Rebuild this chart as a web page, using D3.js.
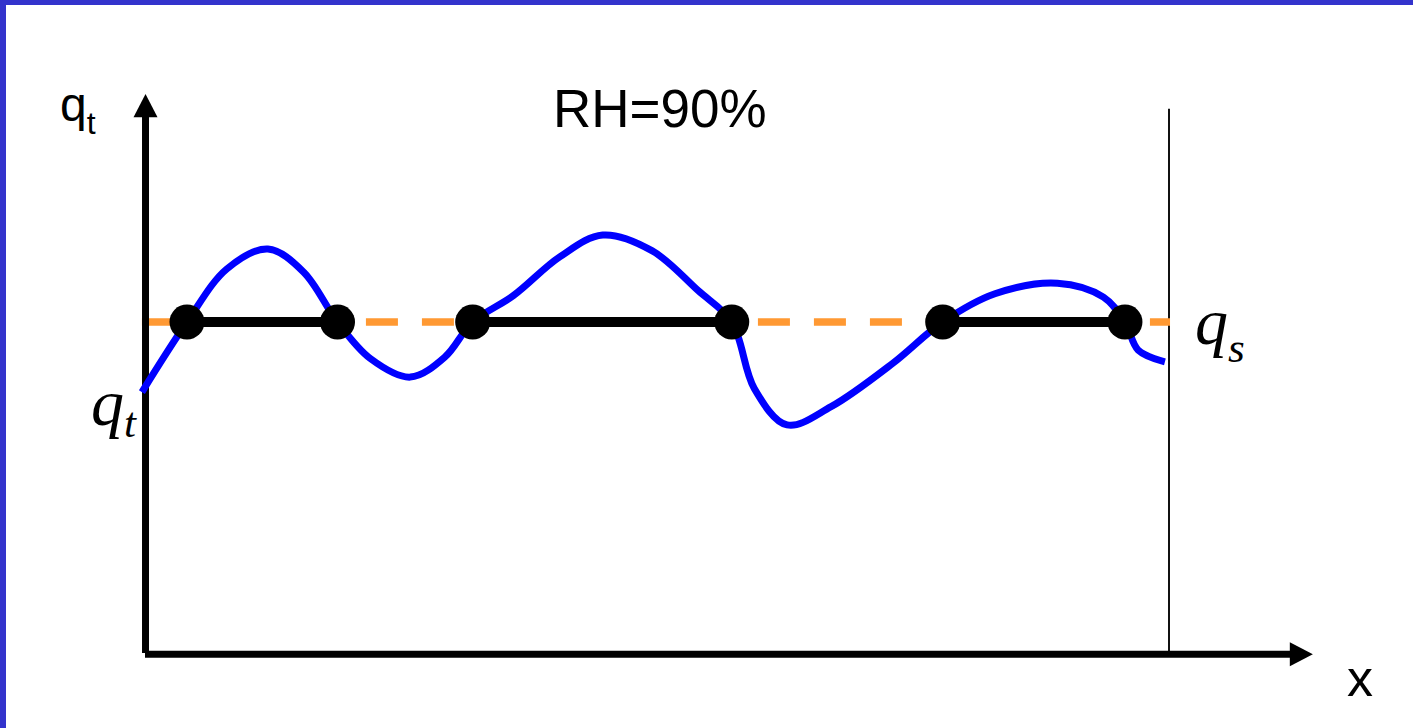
<!DOCTYPE html>
<html>
<head>
<meta charset="utf-8">
<script src="https://cdn.jsdelivr.net/npm/d3@7"></script>
<style>
  html, body { margin: 0; padding: 0; background: #fff; }
  svg { display: block; }
</style>
</head>
<body>
<svg id="chart" width="1413" height="728"></svg>
<script>
// ---- data (x in arbitrary distance units, y relative to saturation qs = 1) ----
const curveX = [-0.03, 0.41, 0.80, 1.20, 1.55, 1.88, 2.20, 2.59, 2.93, 3.20, 3.60, 4.05, 4.47, 4.95, 5.40, 5.73, 5.95, 6.27, 6.70, 7.30, 7.79, 8.30, 8.91, 9.36, 9.57, 9.70, 9.96];
const curveY = [0.789, 1.0, 1.160, 1.220, 1.150, 1.0, 0.890, 0.834, 0.895, 1.0, 1.080, 1.196, 1.262, 1.215, 1.095, 1.0, 0.800, 0.690, 0.745, 0.875, 1.0, 1.085, 1.117, 1.075, 1.0, 0.915, 0.880];
const qs = 1.0;
const crossX = [0.41, 1.88, 3.20, 5.73, 7.79, 9.57];
const saturatedStart = [0, 2, 4];   // indices into crossX
const saturatedEnd = [1, 3, 5];
const titleText = "RH=90%";

const svg = d3.select("#chart");

// frame border (blue, top and left)
svg.append("rect").attr("x", 0).attr("y", 0).attr("width", 1413).attr("height", 5).attr("fill", "#3333cc");
svg.append("rect").attr("x", 0).attr("y", 0).attr("width", 6).attr("height", 728).attr("fill", "#3333cc");

const x = d3.scaleLinear().domain([0, 10]).range([145, 1169]);
const y = d3.scaleLinear().domain([0, 1]).range([654, 322]);

// thin vertical boundary line
svg.append("line")
  .attr("x1", x(10)).attr("x2", x(10))
  .attr("y1", y(1.642)).attr("y2", y(0))
  .attr("stroke", "#111").attr("stroke-width", 2);

// saturation level (dashed orange)
svg.append("line")
  .attr("x1", x(-0.03)).attr("x2", x(10.01))
  .attr("y1", y(qs)).attr("y2", y(qs))
  .attr("stroke", "#ff9933").attr("stroke-width", 7.5)
  .attr("stroke-dasharray", "32,24");

// axes
const axisG = svg.append("g");
axisG.append("line")
  .attr("x1", x(0.005)).attr("x2", x(0.005))
  .attr("y1", y(0.003)).attr("y2", y(1.62))
  .attr("stroke", "#000").attr("stroke-width", 7);
axisG.append("path")
  .attr("d", `M${x(0.005) - 12},${y(1.617)} L${x(0.005)},${y(1.687)} L${x(0.005) + 12},${y(1.617)} Z`)
  .attr("fill", "#000");
axisG.append("line")
  .attr("x1", x(0)).attr("x2", x(11.2))
  .attr("y1", y(-0.001)).attr("y2", y(-0.001))
  .attr("stroke", "#000").attr("stroke-width", 7);
axisG.append("path")
  .attr("d", `M${x(11.18)},${y(-0.001) - 12} L${x(11.405)},${y(-0.001)} L${x(11.18)},${y(-0.001) + 12} Z`)
  .attr("fill", "#000");

// blue curve
const pts = curveX.map((v, i) => [v, curveY[i]]);
const line = d3.line()
  .x(d => x(d[0])).y(d => y(d[1]))
  .curve(d3.curveCatmullRom.alpha(0.5));
svg.append("path")
  .datum(pts)
  .attr("d", line)
  .attr("fill", "none")
  .attr("stroke", "#0000ff")
  .attr("stroke-width", 7);

// saturated segments
svg.selectAll("line.seg")
  .data(saturatedStart.map((s, i) => [crossX[s], crossX[saturatedEnd[i]]]))
  .join("line")
  .attr("class", "seg")
  .attr("x1", d => x(d[0])).attr("x2", d => x(d[1]))
  .attr("y1", y(qs)).attr("y2", y(qs))
  .attr("stroke", "#000").attr("stroke-width", 10);

// crossing dots
svg.selectAll("circle.dot")
  .data(crossX)
  .join("circle")
  .attr("class", "dot")
  .attr("cx", d => x(d)).attr("cy", y(qs))
  .attr("r", 17.5).attr("fill", "#000");

// texts
const sans = "'Liberation Sans', Arial, sans-serif";
const serif = "'Liberation Serif', 'Times New Roman', serif";

svg.append("text").attr("x", 553).attr("y", 127)
  .attr("font-family", sans).attr("font-size", 53).attr("fill", "#000")
  .text(titleText);

// y-axis label q_t
const yl = svg.append("text").attr("x", 60).attr("y", 121)
  .attr("font-family", sans).attr("fill", "#000");
yl.append("tspan").attr("font-size", 48).text("q");
yl.append("tspan").attr("font-size", 32).attr("dy", 13).text("t");

// x-axis label
svg.append("text").attr("x", 1347).attr("y", 696)
  .attr("font-family", sans).attr("font-size", 52).attr("fill", "#000")
  .text("x");

// italic q_t at left
const qt = svg.append("text").attr("x", 91).attr("y", 425)
  .attr("font-family", serif).attr("font-style", "italic").attr("fill", "#000");
qt.append("tspan").attr("font-size", 66).text("q");
qt.append("tspan").attr("font-size", 43).attr("dy", 12).text("t");

// italic q_s at right
const qsl = svg.append("text").attr("x", 1195).attr("y", 344)
  .attr("font-family", serif).attr("font-style", "italic").attr("fill", "#000");
qsl.append("tspan").attr("font-size", 66).text("q");
qsl.append("tspan").attr("font-size", 43).attr("dy", 18).text("s");
</script>
</body>
</html>
